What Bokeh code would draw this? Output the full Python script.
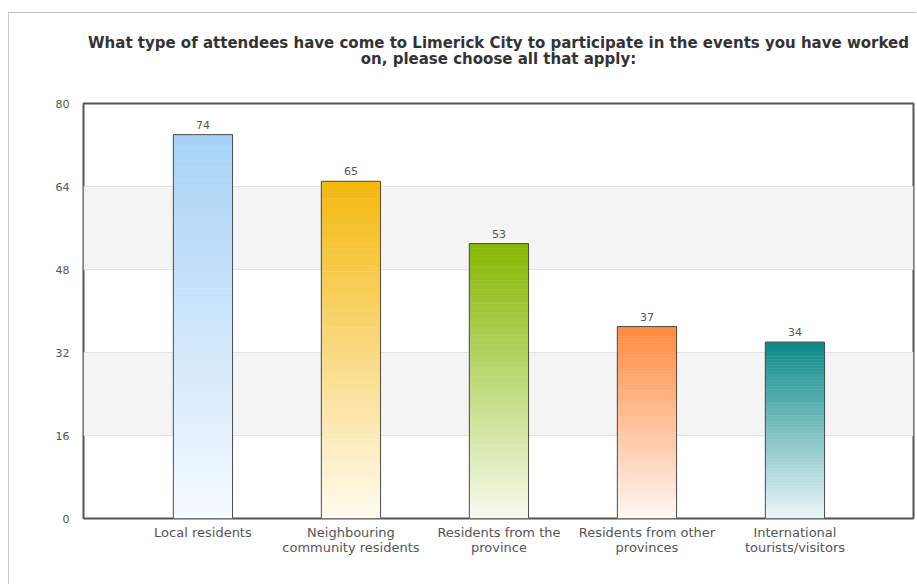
from bokeh.plotting import figure
from bokeh.models import Range1d, FixedTicker, BoxAnnotation, Title, ColumnDataSource
from bokeh.core.properties import value
from bokeh.embed import file_html
from bokeh.resources import INLINE

# ---- data ----
categories = ["Local residents", "Neighbouring community residents", "Residents from the province",
              "Residents from other provinces", "International tourists/visitors"]
tick_labels = ["Local residents", "Neighbouring\ncommunity residents", "Residents from the\nprovince",
               "Residents from other\nprovinces", "International\ntourists/visitors"]
counts = [74, 65, 53, 37, 34]
y_ticks = [0, 16, 32, 48, 64, 80]
top_colors = ["#A6D2F6", "#F4B80E", "#86B700", "#FF8A3E", "#0B8A88"]
bottom_colors = ["#F6FAFF", "#FFFBF0", "#F7FBEF", "#FFF8F4", "#EEF6FA"]

title1 = "What type of attendees have come to Limerick City to participate in the events you have worked"
title2 = "on, please choose all that apply:"

FONT = "DejaVu Sans"

p = figure(width=908, height=572, output_backend="svg", toolbar_location=None,
           x_range=Range1d(-0.807, 4.801), y_range=Range1d(0, 80),
           min_border_left=74, min_border_top=90, min_border_right=4, min_border_bottom=67)
p.margin = (12, 0, 0, 8)
p.styles = {"border-top": "1px solid #C4C4C4", "border-left": "1px solid #C4C4C4"}

# titles: spacer nearest the frame, then line 2, then line 1
spacer = Title(text=" ", text_font_size="1px", standoff=35, text_line_height=1.0)
t2 = Title(text=title2, align="center", text_font=FONT, text_font_size="15px",
           text_font_style="bold", text_color="#333333", standoff=-4, text_line_height=1.0)
t1 = Title(text=title1, align="center", text_font=FONT, text_font_size="15px",
           text_font_style="bold", text_color="#333333", standoff=-4, text_line_height=1.0)
p.add_layout(spacer, "above")
p.add_layout(t2, "above")
p.add_layout(t1, "above")

# background bands between alternate ticks
for i in range(1, len(y_ticks) - 1, 2):
    p.add_layout(BoxAnnotation(bottom=y_ticks[i], top=y_ticks[i + 1], fill_color="#F4F4F4",
                               fill_alpha=1, line_color=None, level="underlay"))

p.xgrid.visible = False
p.ygrid.ticker = FixedTicker(ticks=y_ticks)
p.ygrid.grid_line_color = "#D2D2D2"
p.ygrid.grid_line_width = 1
p.ygrid.level = "underlay"

p.outline_line_color = "#555555"
p.outline_line_width = 2
p.background_fill_color = "white"
p.border_fill_color = "white"


def hex2rgb(h):
    h = h.lstrip("#")
    return [int(h[k:k + 2], 16) for k in (0, 2, 4)]


def rgb2hex(c):
    return "#%02x%02x%02x" % tuple(int(round(v)) for v in c)


# gradient bars built from stacked slices of each value
N = 60
bw = 0.4
xs_l, xs_r, bots, tops, cols = [], [], [], [], []
for i, v in enumerate(counts):
    ct = hex2rgb(top_colors[i])
    cb = hex2rgb(bottom_colors[i])
    for k in range(N):
        f0, f1 = k / N, (k + 1) / N
        fm = (f0 + f1) / 2
        xs_l.append(i - bw / 2)
        xs_r.append(i + bw / 2)
        bots.append(v * f0)
        tops.append(v * f1)
        cols.append(rgb2hex([cb[j] + (ct[j] - cb[j]) * fm for j in range(3)]))
p.quad(left=xs_l, right=xs_r, bottom=bots, top=tops, fill_color=cols, line_color=cols, line_width=0.5)

src = ColumnDataSource(dict(x=list(range(len(counts))), top=counts, lab=[str(c) for c in counts]))
p.vbar(x="x", top="top", width=bw, bottom=0, source=src, fill_color=None, line_color="#4D4D4D", line_width=1)
p.text(x="x", y="top", text="lab", source=src, text_align="center", text_baseline="bottom",
       y_offset=-6, text_font=value(FONT), text_font_size="11px", text_color="#555555")

# axes
p.xaxis.ticker = FixedTicker(ticks=list(range(len(categories))))
p.xaxis.major_label_overrides = {i: t for i, t in enumerate(tick_labels)}
p.yaxis.ticker = FixedTicker(ticks=y_ticks)
for ax in (p.xaxis[0], p.yaxis[0]):
    ax.axis_line_color = None
    ax.major_tick_line_color = None
    ax.minor_tick_line_color = None
    ax.major_label_text_font = FONT
    ax.major_label_text_color = "#555555"
p.xaxis.major_label_text_font_size = "13px"
p.xaxis.major_label_text_line_height = 1.0
p.yaxis.major_label_text_font_size = "11px"
p.xaxis.major_label_standoff = 0
p.yaxis.major_label_standoff = 8

open("out.html", "w").write(file_html(p, INLINE))
